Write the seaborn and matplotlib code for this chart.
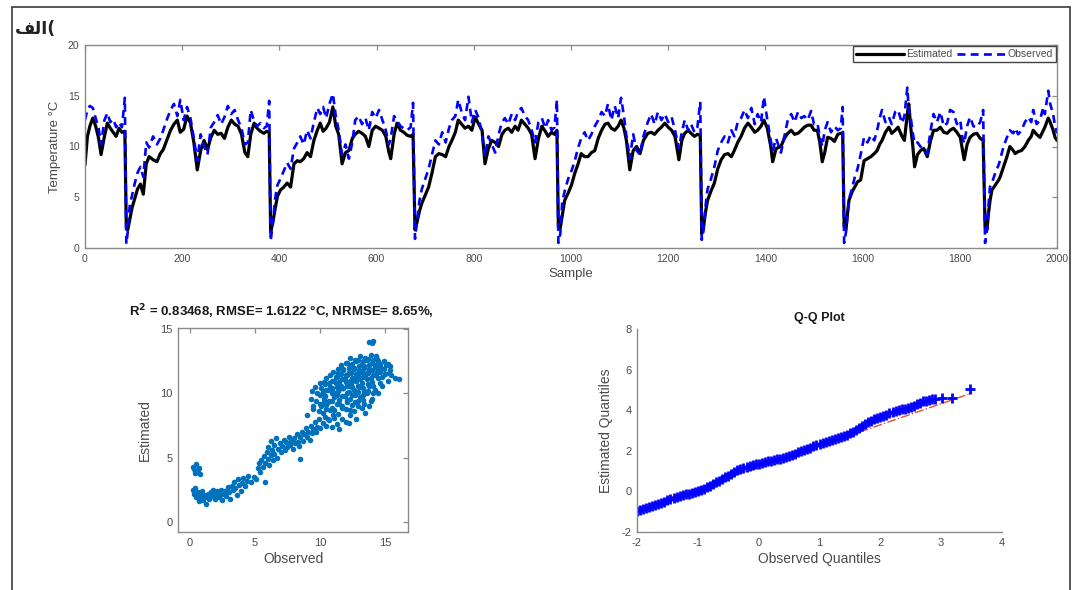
import numpy as np
import pandas as pd
import matplotlib
matplotlib.use("Agg")
import matplotlib.pyplot as plt
from matplotlib.patches import Rectangle
import seaborn as sns

# ---------------- data ----------------
sample = [0, 5, 10, 16, 22, 28, 33, 40, 46, 52, 58, 64, 70, 76, 82,
          85, 88, 92, 97, 102, 108, 114, 120, 126, 132, 140, 148, 155, 161, 168, 176, 183, 190, 196, 203,
          210, 217, 224, 231, 238, 245, 252, 259, 266, 273, 280, 287, 294, 301, 308, 315, 322, 329, 335,
          341, 348, 354, 361, 368, 374, 379,
          382, 386, 391, 396, 402, 409, 416, 423, 430, 437, 443, 450, 457, 464, 471, 478, 484, 490, 496,
          503, 510, 516, 522, 529, 536, 543, 550, 556, 563, 570, 577, 584, 591, 598, 605, 612, 619, 625,
          629, 636, 642, 649, 656, 663, 670, 675,
          679, 683, 688, 693, 700, 707, 714, 721, 728, 735, 742, 749, 755, 762, 768, 775, 782, 789, 796,
          803, 810, 817, 823, 830, 837, 844, 851, 858, 864, 871, 878, 885, 891, 898, 905, 912, 919, 926,
          933, 940, 947, 953, 960, 966, 971,
          974, 978, 982, 987, 994, 1001, 1008, 1014, 1021, 1028, 1035, 1042, 1049, 1056, 1063, 1070, 1076,
          1083, 1090, 1097, 1103, 1109, 1114, 1121, 1128, 1135, 1142, 1149, 1158, 1165, 1172, 1179, 1186,
          1193, 1200, 1207, 1214, 1222, 1228, 1234, 1241, 1247, 1254, 1260, 1266,
          1269, 1273, 1277, 1281, 1288, 1295, 1302, 1309, 1316, 1323, 1330, 1336, 1343, 1350, 1357, 1364,
          1371, 1378, 1384, 1391, 1397, 1404, 1411, 1415, 1422, 1432, 1439, 1446, 1453, 1460, 1467, 1474,
          1480, 1487, 1494, 1500, 1507, 1512, 1517, 1522, 1528, 1535, 1542, 1549, 1555, 1559,
          1562, 1566, 1569, 1572, 1579, 1586, 1589, 1596, 1603, 1610, 1617, 1624, 1630, 1635, 1640, 1647,
          1654, 1660, 1667, 1673, 1681, 1686, 1692, 1695, 1699, 1703, 1707, 1713, 1719, 1726, 1733, 1740,
          1746, 1753, 1760, 1767, 1774, 1780, 1787, 1794, 1801, 1805, 1809, 1815, 1821, 1828, 1835, 1842, 1848,
          1852, 1856, 1859, 1862, 1866, 1873, 1880, 1883, 1890, 1897, 1903, 1910, 1914, 1920, 1927, 1934,
          1941, 1947, 1951, 1958, 1965, 1972, 1975, 1982, 1986, 1992, 1996, 2000]

estimated = [8.2, 11.0, 12.0, 12.8, 12.0, 10.8, 9.2, 11.0, 12.3, 11.8, 11.4, 11.0, 11.8, 11.4, 11.5,
             2.0, 1.8, 2.8, 4.0, 4.8, 5.8, 6.3, 5.3, 8.3, 9.0, 8.7, 8.5, 9.3, 9.7, 10.6, 11.6, 12.2, 12.6, 11.4, 11.7,
             13.0, 12.3, 10.4, 7.7, 9.6, 10.6, 9.7, 10.9, 11.6, 11.2, 11.3, 10.8, 11.9, 12.6, 12.2, 12.0, 11.2, 9.4, 9.0,
             11.2, 12.3, 11.8, 11.5, 11.3, 11.5, 11.4,
             1.6, 2.4, 3.8, 5.1, 5.7, 6.0, 6.4, 6.0, 8.3, 8.6, 8.5, 8.8, 9.4, 9.0, 10.6, 11.6, 12.3, 11.5, 11.8,
             12.4, 13.9, 12.0, 11.2, 8.3, 9.4, 9.6, 10.8, 11.2, 11.5, 11.3, 11.0, 10.0, 11.6, 12.0, 11.8, 11.6, 11.0, 9.5,
             8.8, 11.2, 12.3, 11.6, 11.4, 11.1, 11.0, 11.2,
             1.8, 2.5, 3.6, 4.4, 5.2, 6.0, 7.4, 9.0, 9.3, 9.2, 9.0, 10.0, 10.6, 11.4, 12.6, 12.2, 11.8, 12.0, 11.6,
             12.9, 12.2, 11.6, 8.3, 9.8, 10.6, 10.4, 10.0, 11.2, 11.6, 11.8, 11.4, 12.0, 11.6, 12.6, 12.2, 11.8, 11.2, 8.8,
             10.8, 12.0, 11.5, 11.0, 11.4, 11.2, 11.6,
             2.1, 2.0, 3.2, 4.7, 5.4, 6.2, 7.4, 8.2, 9.3, 9.0, 9.0, 9.4, 9.6, 10.8, 11.6, 12.2, 12.3,
             11.8, 11.6, 12.0, 12.6, 11.8, 10.6, 7.7, 9.6, 10.0, 9.3, 10.6, 11.3, 11.4, 11.2, 11.6, 11.9,
             12.3, 11.9, 11.6, 11.0, 8.7, 10.6, 11.3, 11.6, 11.3, 11.0, 11.2, 11.1,
             1.4, 2.2, 3.6, 4.7, 5.6, 6.4, 7.8, 8.7, 9.2, 9.3, 9.0, 9.6, 10.4, 11.0, 11.8, 12.3,
             11.9, 11.4, 11.6, 12.0, 12.6, 11.8, 10.0, 8.5, 9.8, 10.0, 10.8, 11.3, 11.6, 11.2, 11.3, 11.6,
             11.9, 12.1, 12.1, 11.6, 11.6, 10.4, 8.5, 9.4, 10.9, 10.8, 10.5, 11.2, 11.3, 11.3,
             2.1, 1.9, 3.4, 4.7, 5.6, 6.2, 6.5, 6.7, 8.6, 8.8, 9.0, 9.3, 9.6, 10.2, 10.6, 11.4,
             11.9, 11.3, 11.6, 11.9, 11.0, 10.6, 13.2, 14.2, 11.9, 10.2, 8.0, 9.2, 9.6, 9.8, 9.0, 10.6,
             11.6, 11.6, 11.9, 11.4, 11.3, 11.6, 11.8, 11.4, 10.9, 9.8, 8.7, 10.2, 10.9, 11.2, 11.3, 10.8, 10.6,
             2.1, 1.8, 3.4, 4.6, 5.7, 6.2, 6.7, 7.0, 8.0, 9.0, 10.0, 9.6, 9.3, 9.5, 9.6, 10.0,
             10.6, 11.0, 11.6, 11.2, 10.9, 11.6, 11.9, 12.8, 12.4, 11.6, 10.9, 10.6]

observed = [12.6, 13.6, 14.0, 13.8, 12.8, 11.8, 10.2, 12.6, 13.3, 12.4, 12.7, 11.9, 12.4, 11.9, 14.8,
            0.4, 1.6, 4.2, 5.2, 6.3, 7.4, 8.0, 7.0, 10.4, 9.9, 11.0, 10.2, 10.8, 11.6, 12.6, 13.6, 14.2, 13.0, 14.6, 12.6,
            13.9, 12.8, 10.8, 8.6, 11.2, 10.0, 9.2, 11.9, 12.4, 13.1, 12.2, 12.9, 14.0, 13.2, 13.6, 12.6, 11.8, 10.2, 10.4,
            13.6, 12.5, 12.0, 12.3, 11.8, 12.0, 14.5,
            0.7, 2.2, 4.8, 6.2, 6.8, 7.6, 8.4, 7.8, 9.8, 10.4, 11.0, 10.2, 11.6, 10.8, 12.4, 13.8, 13.2, 13.9, 12.8,
            14.2, 15.2, 13.0, 11.6, 9.2, 10.2, 8.8, 10.4, 12.6, 13.0, 12.2, 12.8, 11.6, 13.4, 12.8, 13.6, 12.6, 11.6, 10.2,
            10.8, 13.0, 12.6, 12.0, 11.8, 11.6, 11.9, 14.3,
            0.9, 2.6, 4.6, 5.8, 6.8, 7.8, 9.2, 10.6, 10.2, 11.4, 10.4, 11.8, 12.6, 13.0, 14.6, 13.4, 12.6, 14.9, 12.4,
            13.6, 12.8, 11.2, 9.0, 11.0, 10.2, 9.4, 11.2, 12.4, 12.8, 12.2, 13.2, 12.6, 13.4, 13.8, 13.0, 12.6, 11.6, 10.4,
            12.4, 12.8, 11.8, 12.6, 11.6, 11.9, 14.6,
            0.5, 1.4, 4.6, 5.6, 6.8, 7.6, 8.6, 9.8, 10.8, 11.4, 10.6, 11.2, 12.0, 12.6, 13.4, 13.0, 14.2,
            12.6, 14.0, 12.8, 14.8, 13.0, 11.0, 8.8, 11.2, 9.6, 9.2, 11.0, 12.4, 13.2, 12.2, 13.4, 12.6,
            13.2, 12.4, 12.9, 11.6, 9.8, 11.4, 12.6, 11.6, 12.2, 11.4, 11.9, 14.4,
            0.8, 1.8, 4.2, 5.8, 6.8, 8.0, 9.6, 10.4, 11.0, 10.4, 11.6, 11.0, 12.4, 12.8, 13.6, 12.8,
            13.8, 12.2, 13.2, 12.4, 14.9, 12.6, 10.6, 9.6, 10.8, 9.4, 11.0, 12.6, 13.2, 12.4, 13.4, 12.8,
            13.0, 12.6, 13.5, 12.2, 12.3, 11.0, 10.0, 11.6, 12.4, 11.4, 12.0, 11.6, 11.8, 13.9,
            0.5, 1.6, 3.4, 4.8, 6.0, 7.4, 7.7, 9.2, 10.9, 10.4, 11.1, 10.6, 11.6, 12.8, 13.6, 12.4,
            12.9, 12.2, 13.4, 13.6, 12.3, 13.0, 15.8, 13.6, 12.9, 11.4, 10.3, 10.4, 10.0, 9.6, 9.3, 11.6,
            13.2, 12.4, 13.4, 12.0, 12.3, 13.6, 13.4, 12.2, 12.6, 11.0, 10.3, 12.0, 12.9, 12.0, 11.9, 12.4, 13.6,
            0.5, 1.8, 4.2, 6.0, 6.4, 7.4, 8.2, 8.7, 10.0, 10.9, 11.6, 11.3, 11.8, 11.2, 11.6, 12.4,
            12.9, 12.4, 13.6, 12.2, 12.6, 13.9, 13.2, 15.5, 14.2, 13.2, 12.0, 11.3]

scatter_observed = [
    0.2, 0.3, 0.5, 0.6, 0.4, 0.7, 0.8, 0.5,
    0.2, 0.3, 0.4, 0.5, 0.6, 0.7, 0.8, 0.9, 1.0, 1.1, 1.2, 1.3, 1.4, 1.5, 1.6, 1.7, 1.8, 1.9, 2.0, 2.1,
    2.2, 2.3, 2.4, 2.5, 2.6, 2.7, 2.8, 2.9, 3.0, 3.1, 3.2, 3.3, 3.4, 3.5, 3.6, 3.7, 3.8, 3.9, 4.0, 4.1,
    4.2, 4.4, 4.5, 4.7, 4.9, 5.1, 5.8,
    5.2, 5.3, 5.4, 5.5, 5.6, 5.7, 5.8, 5.9, 6.0, 6.0, 6.1, 6.2, 6.2, 6.3, 6.4, 6.5, 6.5, 6.6, 6.7, 6.8,
    6.9, 7.0, 7.1, 7.2, 7.3, 7.4, 7.5, 7.6, 7.7, 7.8, 7.9, 8.0, 8.1, 8.2, 8.3, 8.4, 8.5, 8.5, 8.6, 8.7,
    8.8, 8.9, 9.0, 9.1, 9.2, 9.3, 9.4, 9.5, 9.6, 9.7, 9.8, 9.9, 10.0, 10.2, 10.4, 10.5, 10.7, 10.9, 11.1,
    11.3, 11.5, 11.7, 12.0, 12.3,
    9.3, 9.4, 9.5, 9.6, 9.7, 9.8, 9.9, 10.0, 10.0,
    10.2, 10.8, 11.4, 12.0, 12.6, 13.2,
    10.1, 10.5, 10.9, 11.3, 11.7, 12.1, 12.5, 12.9, 13.4,
    10.3, 10.7, 11.1, 11.5, 11.9, 12.3, 12.7, 13.1, 13.6,
    10.2, 10.6, 11.0, 11.4, 11.8, 12.2, 12.6, 13.0, 13.4, 13.8, 14.2,
    10.4, 10.8, 11.2, 11.6, 12.0, 12.4, 12.8, 13.2, 13.6, 14.0, 14.5,
    10.5, 10.9, 11.3, 11.7, 12.1, 12.5, 12.9, 13.3, 13.7, 14.1, 14.6, 15.0,
    11.0, 11.4, 11.8, 12.2, 12.6, 13.0, 13.4, 13.8, 14.2, 14.7, 15.2,
    11.6, 12.0, 12.4, 12.8, 13.2, 13.6, 14.0, 14.4, 14.9, 15.4,
    12.3, 12.7, 13.1, 13.5, 13.9, 14.3,
    13.8, 14.1, 14.0, 15.8, 16.1, 15.5, 15.2, 14.8, 14.5, 14.0, 13.5, 12.8, 12.2, 13.8, 9.0, 9.5, 11.0, 10.6,
    10.4, 11.0, 11.6, 12.2, 12.8, 13.4, 14.0, 10.6, 11.2, 11.8, 12.4, 13.0, 13.6, 14.4,
    10.5, 11.1, 11.7, 12.3, 12.9,
    10.3, 10.9, 11.5, 12.1, 12.7, 13.3, 13.9,
    10.0, 10.4, 10.9, 11.3, 11.7, 12.1, 12.5, 12.9, 13.3, 13.7, 14.1,
    10.1, 10.5, 10.9, 11.3, 11.7, 12.1, 12.5, 12.9, 13.3, 13.7, 14.1, 14.6,
    10.3, 10.7, 11.1, 11.5, 11.9, 12.3, 12.7, 13.1, 13.5, 13.9, 14.3, 14.8, 15.3,
    10.8, 11.2, 11.6, 12.0, 12.4, 12.8, 13.2, 13.6, 14.0, 14.4, 14.9, 15.4,
    11.4, 11.8, 12.2, 12.6, 13.0, 13.4, 13.8, 14.2, 14.6, 15.1,
    12.1, 12.5, 12.9, 13.3, 13.7, 14.1, 14.5]

scatter_estimated = [
    4.3, 4.1, 4.5, 3.9, 3.8, 4.2, 3.7, 4.0,
    2.5, 2.2, 2.6, 1.9, 2.3, 1.6, 2.0, 2.4, 1.7, 2.1, 1.4, 1.9, 2.2, 1.8, 2.3, 2.0, 2.5, 1.8, 2.2, 2.4,
    1.9, 2.1, 2.5, 1.7, 2.2, 2.4, 2.0, 2.7, 2.3, 1.8, 2.8, 2.5, 3.1, 2.6, 2.1, 3.3, 2.9, 2.4, 3.0, 3.4,
    2.8, 3.2, 3.6, 3.1, 3.5, 3.3, 3.1,
    4.2, 4.6, 3.9, 4.8, 4.3, 5.1, 4.6, 5.4, 4.9, 5.8, 4.4, 5.2, 6.3, 5.6, 4.8, 6.0, 5.3, 6.5, 5.0, 5.7,
    6.1, 5.4, 5.9, 6.4, 5.6, 6.2, 5.8, 6.6, 6.0, 6.3, 5.7, 6.5, 6.1, 6.8, 6.2, 5.9, 6.6, 4.9, 7.0, 6.3,
    6.8, 7.3, 6.6, 7.0, 6.4, 7.5, 6.9, 7.2, 7.8, 7.0, 7.4, 8.0, 7.3, 7.7, 8.2, 7.5, 7.9, 7.4, 8.1,
    7.6, 7.2, 8.0, 7.8, 8.3,
    9.6, 10.2, 9.0, 10.5, 9.4, 10.0, 8.6, 10.8, 9.2,
    8.5, 8.7, 8.4, 8.8, 8.6, 8.9,
    9.0, 9.1, 8.9, 9.2, 9.0, 9.3, 9.1, 9.4, 9.2,
    9.6, 9.4, 9.7, 9.5, 9.8, 9.6, 9.9, 9.7, 10.0,
    10.1, 10.3, 10.0, 10.2, 10.4, 10.1, 10.3, 10.5, 10.2, 10.6, 10.3,
    10.7, 10.5, 10.8, 10.6, 10.9, 10.7, 11.0, 10.8, 11.1, 10.9, 11.2,
    11.2, 11.0, 11.3, 11.1, 11.4, 11.2, 11.5, 11.3, 11.6, 11.4, 11.7, 11.5,
    11.7, 11.6, 11.9, 11.7, 12.0, 11.8, 12.1, 11.9, 12.2, 12.0, 12.3,
    12.2, 12.4, 12.1, 12.5, 12.3, 12.6, 12.4, 12.7, 12.5, 12.1,
    12.8, 12.6, 12.9, 12.8, 13.0, 12.9,
    14.0, 14.1, 13.9, 11.2, 11.1, 11.4, 11.0, 10.6, 10.0, 9.6, 8.5, 8.0, 7.7, 9.0, 8.3, 8.8, 8.3, 8.0,
    9.8, 10.1, 10.4, 10.6, 11.0, 11.4, 11.8, 9.3, 9.9, 10.4, 10.9, 11.3, 11.6, 12.0,
    8.8, 8.7, 8.9, 8.7, 9.0,
    9.3, 9.4, 9.2, 9.5, 9.3, 9.5, 9.4,
    9.9, 9.8, 10.0, 9.9, 9.8, 10.0, 9.9, 10.1, 9.9, 10.2, 10.0,
    10.4, 10.3, 10.4, 10.5, 10.4, 10.6, 10.5, 10.6, 10.4, 10.7, 10.6, 10.8,
    10.9, 10.8, 11.0, 10.9, 11.1, 11.0, 11.2, 11.1, 11.3, 11.2, 11.4, 11.3, 11.6,
    11.4, 11.3, 11.5, 11.4, 11.6, 11.5, 11.7, 11.6, 11.8, 11.7, 11.9, 11.8,
    11.9, 11.8, 12.0, 11.9, 12.1, 12.0, 12.2, 12.1, 12.3, 12.2,
    12.4, 12.3, 12.6, 12.5, 12.7, 12.6, 12.5]

qq_observed = [-2.0, -1.95, -1.9, -1.85, -1.8, -1.75, -1.7, -1.65, -1.6, -1.55, -1.5, -1.45, -1.4,
               -1.35, -1.3, -1.25, -1.2, -1.15, -1.1, -1.05, -1.0, -0.95, -0.9, -0.85, -0.8, -0.75,
               -0.7, -0.65, -0.6, -0.55, -0.5, -0.45, -0.4, -0.35, -0.3, -0.25, -0.2, -0.15, -0.1,
               -0.05, 0.0, 0.05, 0.1, 0.15, 0.2, 0.25, 0.3, 0.35, 0.4, 0.45, 0.5, 0.55, 0.6, 0.65,
               0.7, 0.75, 0.8, 0.85, 0.9, 0.95, 1.0, 1.05, 1.1, 1.15, 1.2, 1.25, 1.3, 1.35, 1.4, 1.45,
               1.5, 1.55, 1.6, 1.65, 1.7, 1.75, 1.8, 1.85, 1.9, 1.95, 2.0, 2.05, 2.1, 2.15, 2.2, 2.25,
               2.3, 2.35, 2.4, 2.45, 2.5, 2.55, 2.6, 2.65, 2.7, 2.75, 2.8, 2.85, 2.9, 3.02, 3.18, 3.48]
qq_estimated = [-0.95, -0.90, -0.86, -0.81, -0.76, -0.71, -0.66, -0.60, -0.55, -0.50, -0.44, -0.39,
                -0.34, -0.29, -0.24, -0.19, -0.15, -0.11, -0.07, -0.03, 0.02, 0.08, 0.14, 0.21, 0.28,
                0.36, 0.44, 0.52, 0.60, 0.69, 0.78, 0.87, 0.95, 1.03, 1.10, 1.15, 1.20, 1.25, 1.29,
                1.33, 1.37, 1.41, 1.44, 1.48, 1.51, 1.55, 1.58, 1.62, 1.66, 1.71, 1.76, 1.81, 1.86,
                1.92, 1.98, 2.04, 2.10, 2.16, 2.22, 2.27, 2.32, 2.37, 2.42, 2.47, 2.51, 2.56, 2.61,
                2.66, 2.72, 2.79, 2.86, 2.95, 3.04, 3.13, 3.22, 3.31, 3.40, 3.48, 3.55, 3.61, 3.67,
                3.73, 3.78, 3.84, 3.90, 3.95, 4.00, 4.05, 4.08, 4.12, 4.18, 4.22, 4.30, 4.36, 4.43,
                4.47, 4.50, 4.53, 4.55, 4.58, 4.60, 5.04]
qq_line_x = [-2.0, 3.5]
qq_line_y = [-0.88, 4.84]

# ---------------- style ----------------
sns.set_style("white")
plt.rcParams['font.family'] = ['Liberation Sans', 'DejaVu Sans']
plt.rcParams['axes.unicode_minus'] = False
TXT = '#4a4a4a'
SPINE = '#8a8a8a'

W, H = 1082, 590
fig = plt.figure(figsize=(W / 100, H / 100), dpi=100)

def px_axes(l, t, r, b):
    return fig.add_axes([l / W, 1 - b / H, (r - l) / W, (b - t) / H])

def style(ax, box=True, size=7.5):
    for s in ax.spines.values():
        s.set_color(SPINE)
        s.set_linewidth(1.0)
    if not box:
        ax.spines['top'].set_visible(False)
        ax.spines['right'].set_visible(False)
    ax.tick_params(direction='in', length=3.5, width=0.9, color=SPINE, labelcolor=TXT,
                   labelsize=size, top=box, right=box, pad=4)

# outer frame
fig.patches.append(Rectangle((12 / W, -0.02), (1070 - 12) / W, 1.02 - 7 / H,
                             transform=fig.transFigure, fill=False, edgecolor='#3a3a3a',
                             linewidth=1.2))
# panel label "(الف": matplotlib lays text out left-to-right without shaping,
# so the joined letter forms are given in visual order
fig.text(15 / W, 1 - 29 / H, '\ufed2\ufedf\ufe8d(', fontsize=12.5, fontweight='bold',
         color='#222222', ha='left', va='center', family=['DejaVu Sans'])

# ---------------- time series ----------------
ax1 = px_axes(85, 45, 1057, 248)
sns.lineplot(x=sample, y=estimated, ax=ax1, color='black', linewidth=2.3, estimator=None,
             sort=False, label='Estimated')
sns.lineplot(x=sample, y=observed, ax=ax1, color='#0000ff', linewidth=1.9, estimator=None,
             sort=False, label='Observed', linestyle='--')
ax1.lines[1].set_dashes((3.0, 2.0))
ax1.set_xlim(0, 2000)
ax1.set_ylim(0, 20)
ax1.set_xticks(range(0, 2001, 200))
ax1.set_yticks([0, 5, 10, 15, 20])
style(ax1, True, 7.5)
ax1.set_xlabel('Sample', fontsize=9.5, color=TXT, labelpad=3)
ax1.set_ylabel('Temperature °C', fontsize=9.5, color=TXT, labelpad=5)
leg = ax1.legend(ncol=2, loc='upper right', fontsize=7.5, frameon=True, fancybox=False,
                 edgecolor='#444444', framealpha=1, borderaxespad=0.1, handlelength=4.6,
                 columnspacing=0.5, handletextpad=0.2, borderpad=0.3)
leg.get_frame().set_linewidth(1.0)
for t in leg.get_texts():
    t.set_color(TXT)

# ---------------- scatter ----------------
ax2 = px_axes(178, 328, 408, 532)
sns.scatterplot(x=scatter_observed, y=scatter_estimated, ax=ax2, color='#0072BD', s=16,
                linewidth=0, alpha=1)
ax2.set_xlim(-0.92, 16.77)
ax2.set_ylim(-0.8, 15.1)
ax2.set_xticks([0, 5, 10, 15])
ax2.set_yticks([0, 5, 10, 15])
style(ax2, True, 8)
ax2.set_xlabel('Observed', fontsize=10, color=TXT, labelpad=3)
ax2.set_ylabel('Estimated', fontsize=10, color=TXT, labelpad=6)
ax2.text(0.45, 1.035, r'R$^{\mathbf{2}}$ = 0.83468, RMSE= 1.6122 °C, NRMSE= 8.65%,',
         transform=ax2.transAxes, ha='center', va='bottom', fontsize=9.5, fontweight='bold',
         color='#1a1a1a')

# ---------------- Q-Q ----------------
ax3 = px_axes(637, 329, 1002, 532)
sns.lineplot(x=qq_line_x, y=qq_line_y, ax=ax3, color='#e0503c', linewidth=1.0,
             linestyle='-.', estimator=None, sort=False, zorder=1)
sns.scatterplot(x=qq_observed, y=qq_estimated, ax=ax3, marker='+', color='#0000ff', s=55,
                linewidth=2.0, zorder=2)
ax3.set_xlim(-2, 4)
ax3.set_ylim(-2, 8)
ax3.set_xticks(range(-2, 5))
ax3.set_yticks(range(-2, 9, 2))
style(ax3, False, 8)
ax3.set_xlabel('Observed Quantiles', fontsize=10, color=TXT, labelpad=3)
ax3.set_ylabel('Estimated Quantiles', fontsize=10, color=TXT, labelpad=6)
ax3.set_title('Q-Q Plot', fontsize=9, fontweight='bold', color='#1a1a1a', pad=6)

fig.savefig('out.png', dpi=100)
